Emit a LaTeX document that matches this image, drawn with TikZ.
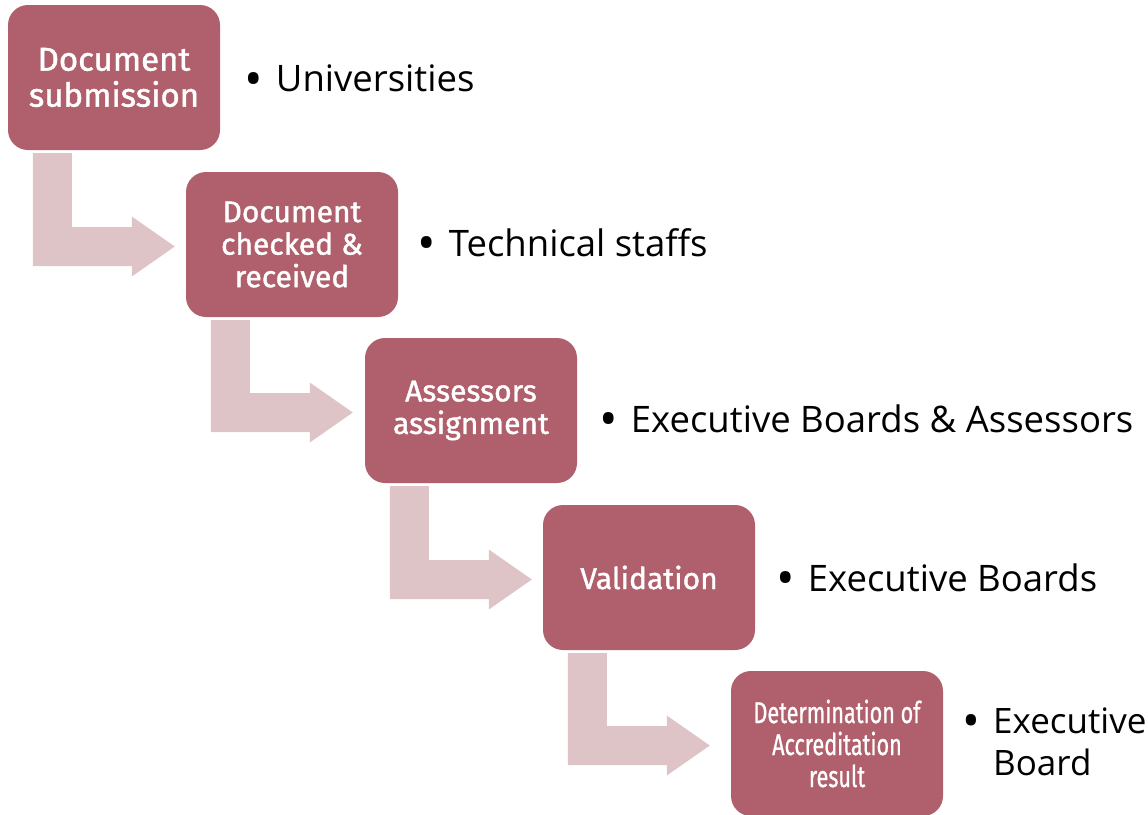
\documentclass[tikz,border=0pt]{standalone}
\usepackage{fontspec}
\usepackage{tikz}
\usetikzlibrary{calc,positioning}
\setmainfont{Open Sans}
\newfontfamily\boxfont[FakeBold=1.3]{Fira Sans}
\newfontfamily\boxcond[FakeStretch=0.72,FakeBold=0.8]{Fira Sans}
\definecolor{rose}{HTML}{B0606C}
\definecolor{blush}{HTML}{DFC4C7}
\tikzset{
  box/.style={fill=rose, rounded corners=20pt, minimum width=212pt, minimum height=145pt,
    text=white, align=center, inner sep=0pt},
  boxt/.style={font=\boxfont\fontsize{30}{32.5}\selectfont},
  flow/.style={fill=blush},
  lab/.style={text=black, font=\fontsize{36.5}{42}\selectfont, align=left, inner sep=0pt},
}
\newcommand{\bul}{\raisebox{-4.5pt}{\scalebox{1.35}{\textbullet}}\hspace{13pt}}

\begin{document}
\begin{tikzpicture}[x=1pt,y=-1pt]
  \useasboundingbox (0,0) rectangle (1148,814);

  \node[box,font=\boxfont\fontsize{33}{36}\selectfont] (b1) at (114,77.5) {Document\\submission};
  \node[box,boxt] (b2) at (292,244.5) {Document\\checked \&\\received};
  \node[box,boxt] (b3) at (471,410.5) {Assessors\\assignment};
  \node[box,boxt] (b4) at (649,577.5) {Validation};
  \node[box,font=\boxcond\fontsize{30}{32}\selectfont] (b5) at (837,743.5) {Determination of\\Accreditation\\result};

  % bent arrows between the steps
  \foreach \i/\j in {b1/b2,b2/b3,b3/b4,b4/b5}{
    \fill[flow] let \p1=(\i.south west), \p2=(\j.west) in
      (\x1+25pt,\y1-3pt) -- (\x1+64pt,\y1-3pt) -- (\x1+64pt,\y2+17.5pt)
      -- (\x1+124pt,\y2+17.5pt) -- (\x1+124pt,\y2+28pt) -- (\x1+167pt,\y2-2pt)
      -- (\x1+124pt,\y2-32pt) -- (\x1+124pt,\y2-21.5pt) -- (\x1+25pt,\y2-21.5pt) -- cycle;
  }

  \node[lab,right=24pt of b1,yshift=-3pt] (l1) {\bul Universities};
  \node[lab,right=19pt of b2] (l2) {\bul Technical staffs};
  \node[lab,right=22pt of b3,yshift=-10pt] (l3) {\bul Executive Boards \& Assessors};
  \node[lab,right=21pt of b4,yshift=-2pt] (l4) {\bul Executive Boards};
  \node[lab,right=19pt of b5,yshift=2pt,font=\fontsize{35}{42}\selectfont] (l5) {\bul Executive\\\hphantom{\bul}Board};
\end{tikzpicture}
\end{document}
